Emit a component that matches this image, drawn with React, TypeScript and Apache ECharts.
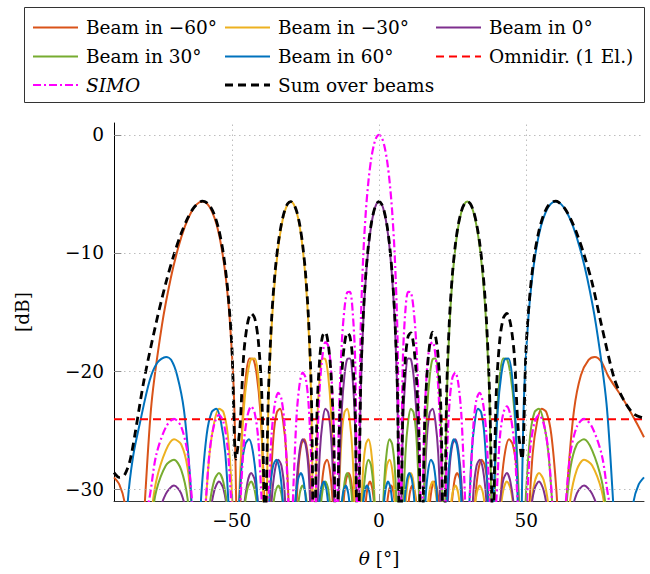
import React, { useEffect, useRef } from "react";
import * as echarts from "echarts";

type Pt = [number, number];

// Angle theta [deg], gain [dB]. Values below the axis minimum mark nulls (clipped).
const BEAM_M60: Pt[] = [[-90,-29],[-88.2,-29.6],[-86.4,-31.1],[-84.3,-35.8],[-82.29,-38],[-77.26,-22.73],[-73.69,-16.07],[-70.76,-12.18],[-68.2,-9.56],[-65.91,-7.75],[-63.79,-6.56],[-61.84,-5.87],[-60,-5.65],[-58.25,-5.87],[-56.59,-6.56],[-54.99,-7.75],[-53.47,-9.56],[-51.99,-12.18],[-50.56,-16.07],[-49.17,-22.73],[-47.81,-38],[-46.5,-24.89],[-45.21,-20.45],[-43.96,-18.94],[-42.72,-18.99],[-41.52,-20.35],[-40.34,-23.29],[-39.17,-29.2],[-38.03,-38],[-36.9,-30.23],[-35.78,-25.36],[-34.69,-23.48],[-33.6,-23.2],[-32.54,-24.28],[-31.48,-26.96],[-30.44,-32.64],[-29.4,-38],[-28.38,-33.28],[-27.37,-28.24],[-26.37,-26.2],[-25.37,-25.78],[-24.38,-26.72],[-23.4,-29.28],[-22.43,-34.85],[-21.47,-38],[-20.51,-35.27],[-19.56,-30.14],[-18.61,-28],[-17.67,-27.5],[-16.73,-28.35],[-15.8,-30.84],[-14.87,-36.33],[-13.95,-38],[-13.03,-36.61],[-12.11,-31.41],[-11.19,-29.21],[-10.28,-28.64],[-9.37,-29.44],[-8.47,-31.87],[-7.56,-37.3],[-6.66,-38],[-5.76,-37.47],[-4.86,-32.22],[-3.96,-29.97],[-3.07,-29.35],[-2.17,-30.1],[-1.27,-32.48],[-0.38,-37.86],[0.52,-38],[1.41,-37.95],[2.31,-32.65],[3.2,-30.35],[4.1,-29.69],[5,-30.4],[5.9,-32.73],[6.8,-38.07],[7.7,-38],[8.61,-38.07],[9.51,-32.73],[10.42,-30.4],[11.33,-29.69],[12.25,-30.35],[13.16,-32.65],[14.09,-37.95],[15.01,-38],[15.94,-37.86],[16.87,-32.48],[17.81,-30.1],[18.75,-29.35],[19.7,-29.97],[20.65,-32.22],[21.61,-37.47],[22.58,-38],[23.55,-37.3],[24.54,-31.87],[25.52,-29.44],[26.52,-28.64],[27.53,-29.21],[28.54,-31.41],[29.56,-36.61],[30.6,-38],[31.64,-36.33],[32.7,-30.84],[33.77,-28.35],[34.86,-27.5],[35.95,-28],[37.06,-30.14],[38.2,-35.27],[39.35,-38],[40.51,-34.85],[41.7,-29.28],[42.91,-26.72],[44.15,-25.78],[45.41,-26.2],[46.7,-28.24],[48.02,-33.28],[49.38,-38],[50.78,-32.64],[52.21,-26.96],[53.7,-24.28],[55.24,-23.2],[56.83,-23.48],[58.51,-25.36],[60.28,-30.23],[62.13,-38],[64.11,-29.2],[66.25,-23.29],[68.57,-20.35],[71.18,-19.05],[73.3,-18.8],[75.5,-19.2],[77.89,-20.45],[83,-22.4],[87.5,-24.4],[90,-25.6]];

const BEAM_M30: Pt[] = [[-90,-38],[-79.86,-34.85],[-75.64,-29.28],[-72.39,-26.72],[-69.63,-25.78],[-67.2,-26.2],[-64.99,-28.24],[-62.95,-33.28],[-61.04,-38],[-59.25,-32.64],[-57.54,-26.96],[-55.91,-24.28],[-54.34,-23.2],[-52.83,-23.48],[-51.38,-25.36],[-49.96,-30.23],[-48.59,-38],[-47.25,-29.2],[-45.95,-23.29],[-44.68,-20.35],[-43.43,-18.99],[-42.21,-18.94],[-41.01,-20.45],[-39.84,-24.89],[-38.68,-38],[-37.55,-22.73],[-36.42,-16.07],[-35.32,-12.18],[-34.23,-9.56],[-33.15,-7.75],[-32.09,-6.56],[-31.04,-5.87],[-30,-5.65],[-28.97,-5.87],[-27.95,-6.56],[-26.94,-7.75],[-25.94,-9.56],[-24.95,-12.18],[-23.97,-16.07],[-22.99,-22.73],[-22.02,-38],[-21.06,-24.89],[-20.11,-20.45],[-19.16,-18.94],[-18.21,-18.99],[-17.27,-20.35],[-16.34,-23.29],[-15.4,-29.2],[-14.48,-38],[-13.55,-30.23],[-12.64,-25.36],[-11.72,-23.48],[-10.81,-23.2],[-9.9,-24.28],[-8.99,-26.96],[-8.08,-32.64],[-7.18,-38],[-6.28,-33.28],[-5.38,-28.24],[-4.48,-26.2],[-3.58,-25.78],[-2.69,-26.72],[-1.79,-29.28],[-0.9,-34.85],[0,-38],[0.9,-35.27],[1.79,-30.14],[2.69,-28],[3.58,-27.5],[4.48,-28.35],[5.38,-30.84],[6.28,-36.33],[7.18,-38],[8.08,-36.61],[8.99,-31.41],[9.9,-29.21],[10.81,-28.64],[11.72,-29.44],[12.64,-31.87],[13.55,-37.3],[14.48,-38],[15.4,-37.47],[16.34,-32.22],[17.27,-29.97],[18.21,-29.35],[19.16,-30.1],[20.11,-32.48],[21.06,-37.86],[22.02,-38],[22.99,-37.95],[23.97,-32.65],[24.95,-30.35],[25.94,-29.69],[26.94,-30.4],[27.95,-32.73],[28.97,-38.07],[30,-38],[31.04,-38.07],[32.09,-32.73],[33.15,-30.4],[34.23,-29.69],[35.32,-30.35],[36.42,-32.65],[37.55,-37.95],[38.68,-38],[39.84,-37.86],[41.01,-32.48],[42.21,-30.1],[43.43,-29.35],[44.68,-29.97],[45.95,-32.22],[47.25,-37.47],[48.59,-38],[49.96,-37.3],[51.38,-31.87],[52.83,-29.44],[54.34,-28.64],[55.91,-29.21],[57.54,-31.41],[59.25,-36.61],[61.04,-38],[62.95,-36.33],[64.99,-30.84],[67.2,-28.35],[69.63,-27.5],[72.39,-28],[75.64,-30.14],[79.86,-35.27],[90,-38]];

const BEAM_0: Pt[] = [[-90,-38],[-79.86,-38],[-75.64,-32.73],[-72.39,-30.4],[-69.63,-29.69],[-67.2,-30.35],[-64.99,-32.65],[-62.95,-37.95],[-61.04,-38],[-59.25,-37.86],[-57.54,-32.48],[-55.91,-30.1],[-54.34,-29.35],[-52.83,-29.97],[-51.38,-32.22],[-49.96,-37.47],[-48.59,-38],[-47.25,-37.3],[-45.95,-31.87],[-44.68,-29.44],[-43.43,-28.64],[-42.21,-29.21],[-41.01,-31.41],[-39.84,-36.61],[-38.68,-38],[-37.55,-36.33],[-36.42,-30.84],[-35.32,-28.35],[-34.23,-27.5],[-33.15,-28],[-32.09,-30.14],[-31.04,-35.27],[-30,-38],[-28.97,-34.85],[-27.95,-29.28],[-26.94,-26.72],[-25.94,-25.78],[-24.95,-26.2],[-23.97,-28.24],[-22.99,-33.28],[-22.02,-38],[-21.06,-32.64],[-20.11,-26.96],[-19.16,-24.28],[-18.21,-23.2],[-17.27,-23.48],[-16.34,-25.36],[-15.4,-30.23],[-14.48,-38],[-13.55,-29.2],[-12.64,-23.29],[-11.72,-20.35],[-10.81,-18.99],[-9.9,-18.94],[-8.99,-20.45],[-8.08,-24.89],[-7.18,-38],[-6.28,-22.73],[-5.38,-16.07],[-4.48,-12.18],[-3.58,-9.56],[-2.69,-7.75],[-1.79,-6.56],[-0.9,-5.87],[0,-5.65],[0.9,-5.87],[1.79,-6.56],[2.69,-7.75],[3.58,-9.56],[4.48,-12.18],[5.38,-16.07],[6.28,-22.73],[7.18,-38],[8.08,-24.89],[8.99,-20.45],[9.9,-18.94],[10.81,-18.99],[11.72,-20.35],[12.64,-23.29],[13.55,-29.2],[14.48,-38],[15.4,-30.23],[16.34,-25.36],[17.27,-23.48],[18.21,-23.2],[19.16,-24.28],[20.11,-26.96],[21.06,-32.64],[22.02,-38],[22.99,-33.28],[23.97,-28.24],[24.95,-26.2],[25.94,-25.78],[26.94,-26.72],[27.95,-29.28],[28.97,-34.85],[30,-38],[31.04,-35.27],[32.09,-30.14],[33.15,-28],[34.23,-27.5],[35.32,-28.35],[36.42,-30.84],[37.55,-36.33],[38.68,-38],[39.84,-36.61],[41.01,-31.41],[42.21,-29.21],[43.43,-28.64],[44.68,-29.44],[45.95,-31.87],[47.25,-37.3],[48.59,-38],[49.96,-37.47],[51.38,-32.22],[52.83,-29.97],[54.34,-29.35],[55.91,-30.1],[57.54,-32.48],[59.25,-37.86],[61.04,-38],[62.95,-37.95],[64.99,-32.65],[67.2,-30.35],[69.63,-29.69],[72.39,-30.4],[75.64,-32.73],[79.86,-38],[90,-38]];

const BEAM_30: Pt[] = [[-90,-38],[-79.86,-35.27],[-75.64,-30.14],[-72.39,-28],[-69.63,-27.5],[-67.2,-28.35],[-64.99,-30.84],[-62.95,-36.33],[-61.04,-38],[-59.25,-36.61],[-57.54,-31.41],[-55.91,-29.21],[-54.34,-28.64],[-52.83,-29.44],[-51.38,-31.87],[-49.96,-37.3],[-48.59,-38],[-47.25,-37.47],[-45.95,-32.22],[-44.68,-29.97],[-43.43,-29.35],[-42.21,-30.1],[-41.01,-32.48],[-39.84,-37.86],[-38.68,-38],[-37.55,-37.95],[-36.42,-32.65],[-35.32,-30.35],[-34.23,-29.69],[-33.15,-30.4],[-32.09,-32.73],[-31.04,-38.07],[-30,-38],[-28.97,-38.07],[-27.95,-32.73],[-26.94,-30.4],[-25.94,-29.69],[-24.95,-30.35],[-23.97,-32.65],[-22.99,-37.95],[-22.02,-38],[-21.06,-37.86],[-20.11,-32.48],[-19.16,-30.1],[-18.21,-29.35],[-17.27,-29.97],[-16.34,-32.22],[-15.4,-37.47],[-14.48,-38],[-13.55,-37.3],[-12.64,-31.87],[-11.72,-29.44],[-10.81,-28.64],[-9.9,-29.21],[-8.99,-31.41],[-8.08,-36.61],[-7.18,-38],[-6.28,-36.33],[-5.38,-30.84],[-4.48,-28.35],[-3.58,-27.5],[-2.69,-28],[-1.79,-30.14],[-0.9,-35.27],[0,-38],[0.9,-34.85],[1.79,-29.28],[2.69,-26.72],[3.58,-25.78],[4.48,-26.2],[5.38,-28.24],[6.28,-33.28],[7.18,-38],[8.08,-32.64],[8.99,-26.96],[9.9,-24.28],[10.81,-23.2],[11.72,-23.48],[12.64,-25.36],[13.55,-30.23],[14.48,-38],[15.4,-29.2],[16.34,-23.29],[17.27,-20.35],[18.21,-18.99],[19.16,-18.94],[20.11,-20.45],[21.06,-24.89],[22.02,-38],[22.99,-22.73],[23.97,-16.07],[24.95,-12.18],[25.94,-9.56],[26.94,-7.75],[27.95,-6.56],[28.97,-5.87],[30,-5.65],[31.04,-5.87],[32.09,-6.56],[33.15,-7.75],[34.23,-9.56],[35.32,-12.18],[36.42,-16.07],[37.55,-22.73],[38.68,-38],[39.84,-24.89],[41.01,-20.45],[42.21,-18.94],[43.43,-18.99],[44.68,-20.35],[45.95,-23.29],[47.25,-29.2],[48.59,-38],[49.96,-30.23],[51.38,-25.36],[52.83,-23.48],[54.34,-23.2],[55.91,-24.28],[57.54,-26.96],[59.25,-32.64],[61.04,-38],[62.95,-33.28],[64.99,-28.24],[67.2,-26.2],[69.63,-25.78],[72.39,-26.72],[75.64,-29.28],[79.86,-34.85],[90,-38]];

const BEAM_60: Pt[] = [[-90,-38],[-86.5,-38],[-85.3,-31],[-83.5,-27.2],[-81.2,-24.4],[-77.89,-20.8],[-75.3,-19.3],[-72.3,-18.8],[-70.6,-19.05],[-68.57,-20.35],[-66.25,-23.29],[-64.11,-29.2],[-62.13,-38],[-60.28,-30.23],[-58.51,-25.36],[-56.83,-23.48],[-55.24,-23.2],[-53.7,-24.28],[-52.21,-26.96],[-50.78,-32.64],[-49.38,-38],[-48.02,-33.28],[-46.7,-28.24],[-45.41,-26.2],[-44.15,-25.78],[-42.91,-26.72],[-41.7,-29.28],[-40.51,-34.85],[-39.35,-38],[-38.2,-35.27],[-37.06,-30.14],[-35.95,-28],[-34.86,-27.5],[-33.77,-28.35],[-32.7,-30.84],[-31.64,-36.33],[-30.6,-38],[-29.56,-36.61],[-28.54,-31.41],[-27.53,-29.21],[-26.52,-28.64],[-25.52,-29.44],[-24.54,-31.87],[-23.55,-37.3],[-22.58,-38],[-21.61,-37.47],[-20.65,-32.22],[-19.7,-29.97],[-18.75,-29.35],[-17.81,-30.1],[-16.87,-32.48],[-15.94,-37.86],[-15.01,-38],[-14.09,-37.95],[-13.16,-32.65],[-12.25,-30.35],[-11.33,-29.69],[-10.42,-30.4],[-9.51,-32.73],[-8.61,-38.07],[-7.7,-38],[-6.8,-38.07],[-5.9,-32.73],[-5,-30.4],[-4.1,-29.69],[-3.2,-30.35],[-2.31,-32.65],[-1.41,-37.95],[-0.52,-38],[0.38,-37.86],[1.27,-32.48],[2.17,-30.1],[3.07,-29.35],[3.96,-29.97],[4.86,-32.22],[5.76,-37.47],[6.66,-38],[7.56,-37.3],[8.47,-31.87],[9.37,-29.44],[10.28,-28.64],[11.19,-29.21],[12.11,-31.41],[13.03,-36.61],[13.95,-38],[14.87,-36.33],[15.8,-30.84],[16.73,-28.35],[17.67,-27.5],[18.61,-28],[19.56,-30.14],[20.51,-35.27],[21.47,-38],[22.43,-34.85],[23.4,-29.28],[24.38,-26.72],[25.37,-25.78],[26.37,-26.2],[27.37,-28.24],[28.38,-33.28],[29.4,-38],[30.44,-32.64],[31.48,-26.96],[32.54,-24.28],[33.6,-23.2],[34.69,-23.48],[35.78,-25.36],[36.9,-30.23],[38.03,-38],[39.17,-29.2],[40.34,-23.29],[41.52,-20.35],[42.72,-18.99],[43.96,-18.94],[45.21,-20.45],[46.5,-24.89],[47.81,-38],[49.17,-22.73],[50.56,-16.07],[51.99,-12.18],[53.47,-9.56],[54.99,-7.75],[56.59,-6.56],[58.25,-5.87],[60,-5.65],[61.84,-5.87],[63.79,-6.56],[65.91,-7.75],[68.2,-9.56],[70.76,-12.18],[73.69,-16.07],[77.26,-22.73],[82.29,-38],[84.3,-35.8],[86.4,-31.1],[88.2,-29.6],[90,-29]];

const OMNI: Pt[] = [[-90,-24.08],[90,-24.08]];

const SIMO: Pt[] = [[-90,-35],[-79.86,-32.42],[-75.64,-27.08],[-72.39,-24.75],[-69.63,-24.04],[-67.2,-24.7],[-64.99,-27],[-62.95,-32.3],[-61.04,-35],[-59.25,-32.21],[-57.54,-26.83],[-55.91,-24.45],[-54.34,-23.7],[-52.83,-24.32],[-51.38,-26.57],[-49.96,-31.82],[-48.59,-35],[-47.25,-31.65],[-45.95,-26.22],[-44.68,-23.79],[-43.43,-22.99],[-42.21,-23.56],[-41.01,-25.76],[-39.84,-30.96],[-38.68,-35],[-37.55,-30.68],[-36.42,-25.19],[-35.32,-22.7],[-34.23,-21.85],[-33.15,-22.35],[-32.09,-24.49],[-31.04,-29.62],[-30,-35],[-28.97,-29.2],[-27.95,-23.63],[-26.94,-21.07],[-25.94,-20.13],[-24.95,-20.55],[-23.97,-22.59],[-22.99,-27.63],[-22.02,-35],[-21.06,-26.99],[-20.11,-21.31],[-19.16,-18.63],[-18.21,-17.55],[-17.27,-17.83],[-16.34,-19.71],[-15.4,-24.58],[-14.48,-35],[-13.55,-23.55],[-12.64,-17.64],[-11.72,-14.7],[-10.81,-13.34],[-9.9,-13.29],[-8.99,-14.8],[-8.08,-19.24],[-7.18,-35],[-6.28,-17.08],[-5.38,-10.42],[-4.48,-6.53],[-3.58,-3.91],[-2.69,-2.1],[-1.79,-0.91],[-0.9,-0.22],[0,0],[0.9,-0.22],[1.79,-0.91],[2.69,-2.1],[3.58,-3.91],[4.48,-6.53],[5.38,-10.42],[6.28,-17.08],[7.18,-35],[8.08,-19.24],[8.99,-14.8],[9.9,-13.29],[10.81,-13.34],[11.72,-14.7],[12.64,-17.64],[13.55,-23.55],[14.48,-35],[15.4,-24.58],[16.34,-19.71],[17.27,-17.83],[18.21,-17.55],[19.16,-18.63],[20.11,-21.31],[21.06,-26.99],[22.02,-35],[22.99,-27.63],[23.97,-22.59],[24.95,-20.55],[25.94,-20.13],[26.94,-21.07],[27.95,-23.63],[28.97,-29.2],[30,-35],[31.04,-29.62],[32.09,-24.49],[33.15,-22.35],[34.23,-21.85],[35.32,-22.7],[36.42,-25.19],[37.55,-30.68],[38.68,-35],[39.84,-30.96],[41.01,-25.76],[42.21,-23.56],[43.43,-22.99],[44.68,-23.79],[45.95,-26.22],[47.25,-31.65],[48.59,-35],[49.96,-31.82],[51.38,-26.57],[52.83,-24.32],[54.34,-23.7],[55.91,-24.45],[57.54,-26.83],[59.25,-32.21],[61.04,-35],[62.95,-32.3],[64.99,-27],[67.2,-24.7],[69.63,-24.04],[72.39,-24.75],[75.64,-27.08],[79.86,-32.42],[90,-35]];

const SUM_BEAMS: Pt[] = [[-90,-28.6],[-88.2,-29],[-86.4,-28.8],[-84.3,-27.3],[-79.86,-20.84],[-75.64,-15.87],[-72.39,-12.54],[-69.63,-10.14],[-67.2,-8.36],[-64.99,-7.06],[-62.95,-6.19],[-61.04,-5.72],[-60,-5.62],[-59.25,-5.64],[-57.54,-5.98],[-55.91,-6.77],[-54.34,-8.1],[-52.83,-10.11],[-51.38,-13.13],[-49.96,-17.98],[-48.59,-27.46],[-47.25,-24.82],[-45.95,-18.63],[-44.68,-16.02],[-43.43,-15.12],[-42.21,-15.53],[-41.01,-17.39],[-39.84,-21.76],[-38.68,-33.05],[-37.55,-21.82],[-36.42,-15.35],[-35.32,-11.65],[-34.23,-9.21],[-33.15,-7.55],[-32.09,-6.46],[-31.04,-5.84],[-30,-5.65],[-28.97,-5.86],[-27.95,-6.49],[-26.94,-7.59],[-25.94,-9.27],[-24.95,-11.72],[-23.97,-15.4],[-22.99,-21.69],[-22.02,-37.6],[-21.06,-23.55],[-20.11,-18.86],[-19.16,-17.02],[-18.21,-16.7],[-17.27,-17.65],[-16.34,-20.12],[-15.4,-25.37],[-14.48,-38.7],[-13.55,-25.61],[-12.64,-20.25],[-11.72,-17.73],[-10.81,-16.76],[-9.9,-17.05],[-8.99,-18.86],[-8.08,-23.5],[-7.18,-39.3],[-6.28,-21.9],[-5.38,-15.51],[-4.48,-11.79],[-3.58,-9.31],[-2.69,-7.61],[-1.79,-6.5],[-0.9,-5.86],[0,-5.65],[0.9,-5.86],[1.79,-6.5],[2.69,-7.61],[3.58,-9.31],[4.48,-11.79],[5.38,-15.51],[6.28,-21.9],[7.18,-39.3],[8.08,-23.5],[8.99,-18.86],[9.9,-17.05],[10.81,-16.76],[11.72,-17.73],[12.64,-20.25],[13.55,-25.61],[14.48,-38.7],[15.4,-25.37],[16.34,-20.12],[17.27,-17.65],[18.21,-16.7],[19.16,-17.02],[20.11,-18.86],[21.06,-23.55],[22.02,-37.6],[22.99,-21.69],[23.97,-15.4],[24.95,-11.72],[25.94,-9.27],[26.94,-7.59],[27.95,-6.49],[28.97,-5.86],[30,-5.65],[31.04,-5.84],[32.09,-6.46],[33.15,-7.55],[34.23,-9.21],[35.32,-11.65],[36.42,-15.35],[37.55,-21.82],[38.68,-33.05],[39.84,-21.76],[41.01,-17.39],[42.21,-15.53],[43.43,-15.12],[44.68,-16.02],[45.95,-18.63],[47.25,-24.82],[48.59,-27.46],[49.96,-17.98],[51.38,-13.13],[52.83,-10.11],[54.34,-8.1],[55.91,-6.77],[57.54,-5.98],[59.25,-5.64],[60,-5.62],[61.04,-5.72],[62.95,-6.19],[64.99,-7.06],[67.2,-8.36],[69.63,-10.14],[72.39,-12.54],[75.64,-16.2],[79.86,-20.6],[83,-22.4],[86.4,-23.6],[90,-24]];

const X_TICKS = [-50, 0, 50];
const Y_TICKS = [-30, -20, -10, 0];
const X_MIN = -90;
const X_MAX = 90;
const Y_MIN = -31;
const Y_MAX = 1;

const FONT = '"DejaVu Serif", "Liberation Serif", serif';
const FONT_SIZE = 18.5;

const STYLES = [
  { name: "Beam in \u221260\u00b0", data: BEAM_M60, color: "#D95319", width: 2, dash: null as number[] | null, smooth: 0.3 },
  { name: "Beam in \u221230\u00b0", data: BEAM_M30, color: "#EDB120", width: 2, dash: null, smooth: 0.3 },
  { name: "Beam in 0\u00b0", data: BEAM_0, color: "#7E2F8E", width: 2, dash: null, smooth: 0.3 },
  { name: "Beam in 30\u00b0", data: BEAM_30, color: "#77AC30", width: 2, dash: null, smooth: 0.3 },
  { name: "Beam in 60\u00b0", data: BEAM_60, color: "#0072BD", width: 2, dash: null, smooth: 0.3 },
  { name: "Omnidir. (1 El.)", data: OMNI, color: "#FF0000", width: 2.2, dash: [8, 5], smooth: 0 },
  { name: "SIMO", data: SIMO, color: "#FF00FF", width: 2.2, dash: [8, 3, 2, 3], smooth: 0.3 },
  { name: "Sum over beams", data: SUM_BEAMS, color: "#000000", width: 2.8, dash: [8, 5], smooth: 0.3 },
];

const LEG_X = [33, 225, 436];
const LEG_Y = [27.5, 56.5, 85];

const fmt = (v: number) => (v < 0 ? "\u2212" + Math.abs(v) : String(v));

export default function App() {
  const ref = useRef<HTMLDivElement>(null);
  useEffect(() => {
    if (!ref.current) return;
    const chart = echarts.init(ref.current, null, { renderer: "svg" });

    const gridLines: any[] = [
      ...X_TICKS.map((v) => ({ xAxis: v })),
      ...Y_TICKS.map((v) => ({ yAxis: v })),
    ];
    const tickMarks: any[] = [
      ...Y_TICKS.map((v) => [
        { coord: [X_MIN, v], lineStyle: { type: "solid", color: "#8a8a8a", width: 1 } },
        { coord: [X_MIN + 2.5, v] },
      ]),
      ...X_TICKS.map((v) => [
        { coord: [v, Y_MIN], lineStyle: { type: "solid", color: "#8a8a8a", width: 1 } },
        { coord: [v, Y_MIN + 0.6] },
      ]),
    ];

    const legendGraphics: any[] = [
      {
        type: "rect",
        z: 10,
        shape: { x: 24.5, y: 7.5, width: 620, height: 95 },
        style: { fill: "#fff", stroke: "#333", lineWidth: 1 },
      },
    ];
    STYLES.forEach((s, i) => {
      const col = i % 3;
      const row = Math.floor(i / 3);
      legendGraphics.push({
        type: "line",
        z: 11,
        shape: { x1: LEG_X[col], y1: LEG_Y[row], x2: LEG_X[col] + 45, y2: LEG_Y[row] },
        style: { stroke: s.color, lineWidth: s.width, lineDash: s.dash || undefined },
      });
      legendGraphics.push({
        type: "text",
        z: 11,
        x: LEG_X[col] + 53,
        y: LEG_Y[row],
        style: {
          text: s.name,
          fill: "#000",
          fontFamily: FONT,
          fontSize: FONT_SIZE,
          fontStyle: s.name === "SIMO" ? "italic" : "normal",
          verticalAlign: "middle",
          align: "left",
        },
      });
    });

    chart.setOption({
      animation: false,
      backgroundColor: "#fff",
      grid: { left: 114, right: 6, top: 123, bottom: 73, containLabel: false, outerBoundsMode: "none" },
      graphic: legendGraphics,
      xAxis: {
        type: "value",
        min: X_MIN,
        max: X_MAX,
        interval: 10,
        axisLine: { show: true, onZero: false, lineStyle: { color: "#333", width: 1 } },
        axisTick: { show: false },
        splitLine: { show: false },
        axisLabel: {
          margin: 10,
          color: "#000",
          fontFamily: FONT,
          fontSize: FONT_SIZE,
          formatter: (v: number) => (X_TICKS.includes(Math.round(v)) ? fmt(Math.round(v)) : ""),
        },
        name: "{i|\u03b8} [\u00b0]",
        nameLocation: "middle",
        nameGap: 48,
        nameTextStyle: {
          color: "#000",
          fontFamily: FONT,
          fontSize: FONT_SIZE,
          rich: { i: { fontStyle: "italic", fontFamily: FONT, fontSize: FONT_SIZE, color: "#000" } },
        },
      },
      yAxis: {
        type: "value",
        min: Y_MIN,
        max: Y_MAX,
        interval: 1,
        axisLine: { show: true, onZero: false, lineStyle: { color: "#000", width: 1 } },
        axisTick: { show: false },
        splitLine: { show: false },
        axisLabel: {
          margin: 10,
          color: "#000",
          fontFamily: FONT,
          fontSize: FONT_SIZE,
          formatter: (v: number) => (Y_TICKS.includes(Math.round(v)) ? fmt(Math.round(v)) : ""),
        },
        name: "[dB]",
        nameLocation: "middle",
        nameRotate: 90,
        nameGap: 82,
        nameTextStyle: { color: "#000", fontFamily: FONT, fontSize: FONT_SIZE },
      },
      series: [
        {
          type: "line",
          data: [[X_MIN, Y_MIN - 10]],
          symbol: "none",
          silent: true,
          lineStyle: { opacity: 0 },
          z: 1,
          markLine: {
            silent: true,
            symbol: ["none", "none"],
            animation: false,
            label: { show: false },
            lineStyle: { color: "#bdbdbd", width: 1, type: [1.5, 3.5] },
            emphasis: { disabled: true },
            data: [...gridLines, ...tickMarks],
          },
        },
        ...STYLES.map((s) => ({
          name: s.name,
          type: "line",
          data: s.data,
          symbol: "none",
          showSymbol: false,
          smooth: s.smooth,
          clip: true,
          silent: true,
          z: 2,
          lineStyle: { color: s.color, width: s.width, type: s.dash ? s.dash : "solid", join: "round" },
        })),
      ],
    });
    return () => chart.dispose();
  }, []);
  return <div ref={ref} style={{ position: "absolute", left: 0, top: 0, width: 650, height: 574 }} />;
}
